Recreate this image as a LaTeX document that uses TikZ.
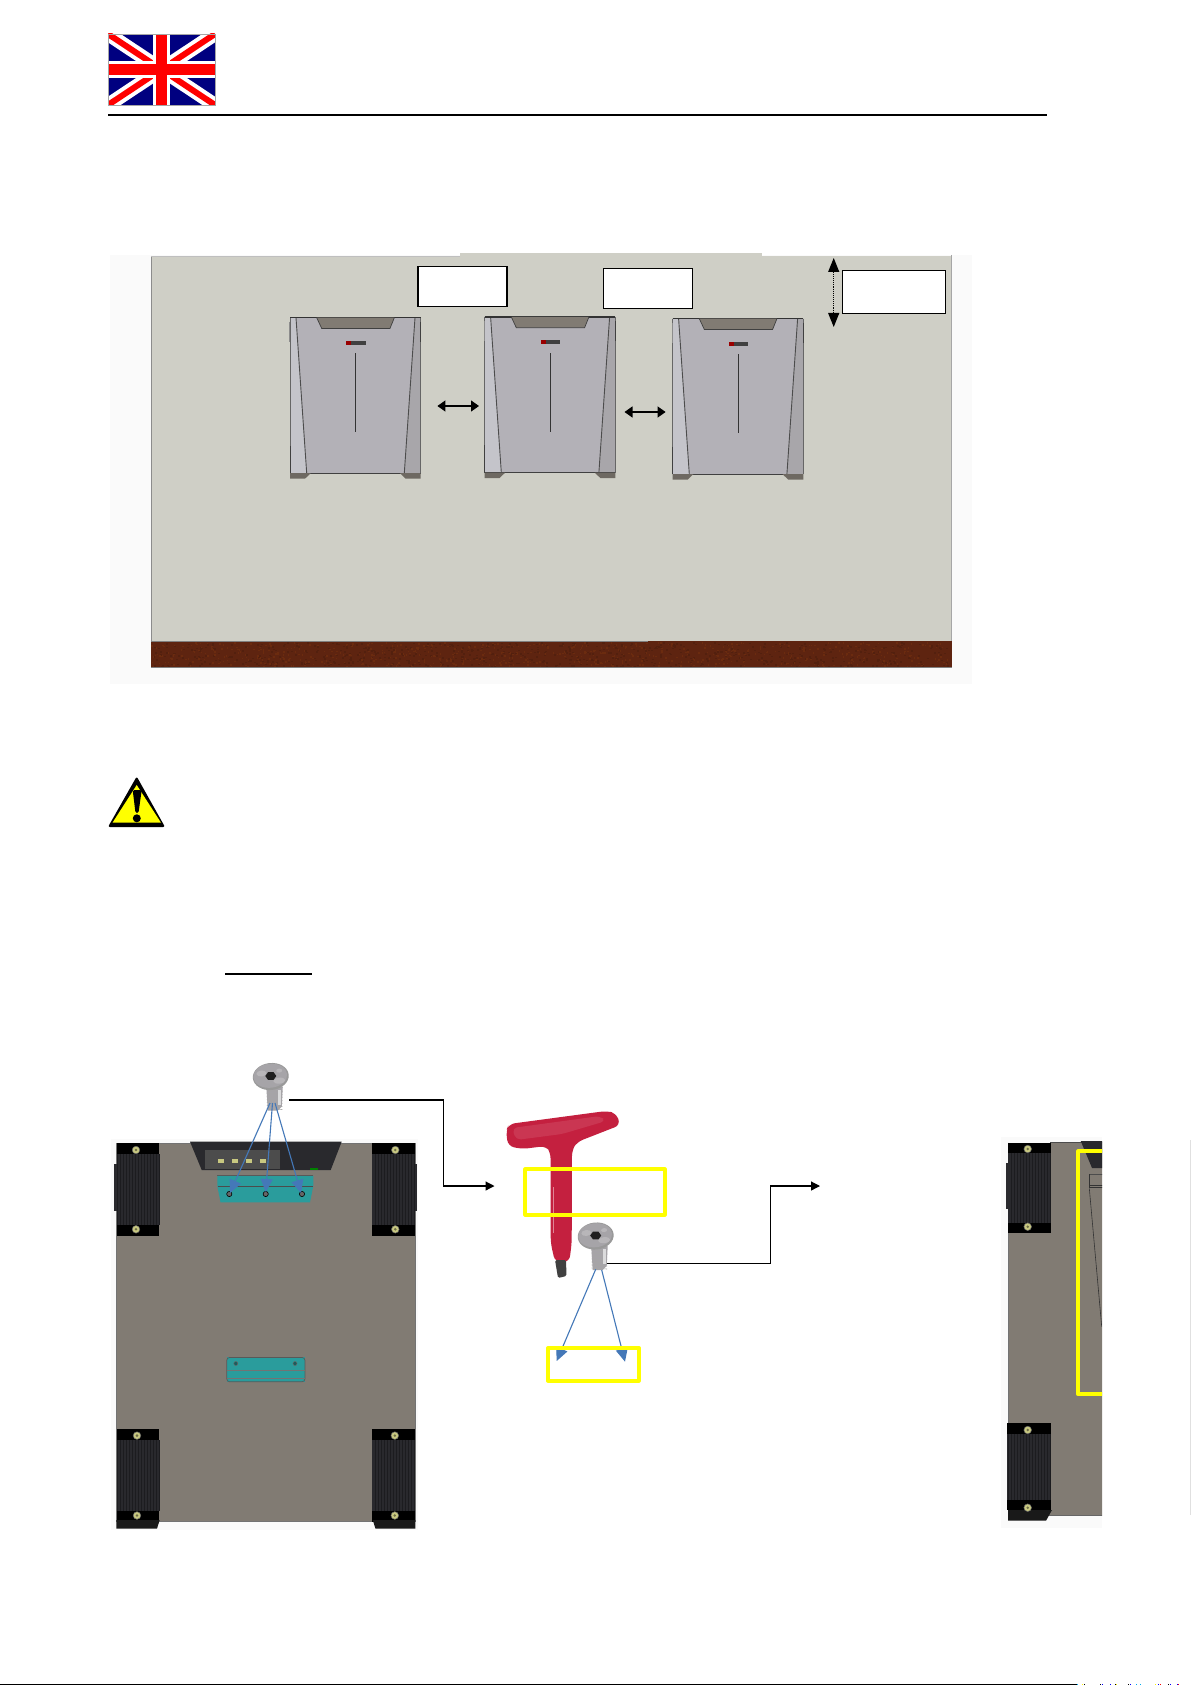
\documentclass[tikz,border=0pt]{standalone}
\usetikzlibrary{arrows.meta}
\definecolor{wallc}{HTML}{CFCFC6}
\definecolor{floorc}{HTML}{5E2410}
\definecolor{paleb}{HTML}{FAFAFA}
\definecolor{bodyc}{HTML}{B3B1B7}
\definecolor{sidel}{HTML}{C4C4CA}
\definecolor{sided}{HTML}{A8A6AA}
\definecolor{taupe}{HTML}{817B73}
\definecolor{padc}{HTML}{29292D}
\definecolor{meshc}{HTML}{1C1C1F}
\definecolor{tealc}{HTML}{2A9C9C}
\definecolor{bluea}{HTML}{4478B8}
\definecolor{yell}{HTML}{FFFF00}
\definecolor{gold}{HTML}{C8C880}
\definecolor{redh}{HTML}{C4203F}
\definecolor{flagb}{HTML}{000080}
\definecolor{flagr}{HTML}{FF0000}
\definecolor{screwc}{HTML}{A6A4A8}
\tikzset{
  blank/.style={draw=black,fill=white,line width=1.2pt},
  yellbox/.style={draw=yell,line width=4pt,line join=round},
  blk/.style={draw=black,line width=1.2pt,-{Triangle[length=9pt,width=9pt]}},
  dbl/.style={draw=black,line width=1.2pt,{Triangle[length=8pt,width=11pt]}-{Triangle[length=8pt,width=11pt]}},
  blu/.style={draw=bluea,line width=1.1pt,-{Triangle[length=13pt,width=12pt]}},
  mesh/.style={draw=meshc,line width=.3pt,step=3},
  cabin/.pic={
    \fill[bodyc] (0,0) rectangle (130.7,155.5);
    \fill[sidel] (0,0) -- (6,0) -- (16.7,155.5) -- (0,155.5) -- cycle;
    \fill[sided] (130.7,0) -- (125,0) -- (114.3,155.5) -- (130.7,155.5) -- cycle;
    \draw[black!70,line width=.9pt] (6,0) -- (16.7,155.5);
    \draw[black!70,line width=.9pt] (125,0) -- (114.3,155.5);
    \draw[black!60,line width=.7pt] (0,0) -- (0,155.5);
    \draw[black!60,line width=.7pt] (130.7,0) -- (130.7,155.5);
    \draw[black!75,line width=.8pt] (130.7,4) -- (130.7,24);
    \draw[black!45,line width=.8pt] (-.7,4) -- (-.7,24);
    \draw[black!75,line width=.8pt] (0,128) -- (0,155.5);
    \draw[black!75,line width=.8pt] (0,155.5) -- (130.7,155.5);
    \draw[black!80,line width=1.1pt] (0,0) -- (130.7,0);
    \fill[taupe] (26.7,0) -- (104.3,0) -- (100,10.7) -- (31.7,10.7) -- cycle;
    \draw[black!75,line width=.7pt] (26.7,0) -- (31.7,10.7) -- (100,10.7) -- (104.3,0);
    \fill[black!75] (56,23) rectangle (75.7,27.4);
    \fill[red!60!black] (56,23) rectangle (61,27.4);
    \fill[black!80] (65,35.7) rectangle (65.8,114.7);
    \fill[taupe!85!black] (0,155.5) -- (20.7,155.5) -- (15,161) -- (0,161) -- cycle;
    \fill[taupe!85!black] (130.7,155.5) -- (110,155.5) -- (115.7,161) -- (130.7,161) -- cycle;
  },
  screwb/.style={fill=gold,draw=black!60,line width=.5pt},
  screw/.pic={
    \fill[screwc] (-4.5,10) -- (12,10) -- (11,30) -- (7,34) -- (-3,34) -- cycle;
    \foreach \t in {14,17,...,32} \draw[black!35,line width=.6pt] (-4,\t) -- (11.5,\t+1);
    \fill[white!60!screwc] (7.5,13) rectangle (10,28);
    \begin{scope}[rotate=6]
    \fill[black!40] (0,0) ellipse (18 and 13.5);
    \fill[screwc] (-.5,-.8) ellipse (17 and 12);
    \fill[white!20!screwc] (-9,-4) ellipse (5 and 3);
    \fill[white!20!screwc] (8,5) ellipse (6 and 3);
    \fill[white!20!screwc] (9,-5) ellipse (3 and 2);
    \end{scope}
    \fill[black!88] (-5.5,-.5) -- (-2.8,-4.3) -- (2.8,-4.3) -- (5.5,-.5) -- (2.8,3.3) -- (-2.8,3.3) -- cycle;
  }
}
\begin{document}
\begin{tikzpicture}[x=1pt,y=-1pt]
\useasboundingbox (0,0) rectangle (1192,1685);
\fill[white] (0,0) rectangle (1192,1685);
% flag
\begin{scope}
\clip (108,34) rectangle (215,105);
\fill[flagb] (108,34) rectangle (215,105);
\draw[white,line width=14pt] (108,34) -- (215,105) (108,105) -- (215,34);
\draw[flagr,line width=6pt] (108,34) -- (215,105) (108,105) -- (215,34);
\fill[white] (153,34) rectangle (170,105);
\fill[white] (108,61) rectangle (215,78);
\fill[flagr] (156,34) rectangle (167,105);
\fill[flagr] (108,64) rectangle (215,75);
\end{scope}
\draw[black!35,line width=.5pt] (108,34) rectangle (215,105);
\fill[black] (108,114) rectangle (1047,116.2);
% wall
\fill[paleb] (110,255) rectangle (972,684);
\fill[wallc] (151,256) rectangle (951.5,642);
\fill[wallc] (460,253) rectangle (762,257);
\draw[black!45,line width=.6pt] (151,256) -- (151,667.5);
\draw[black!35,line width=.6pt] (951.5,255) -- (951.5,641);
\draw[black!25,line width=.5pt] (151,256) -- (460,256);
\fill[floorc] (151,641) rectangle (951.5,667.5);
\pgfmathsetseed{7}
\foreach \i in {1,...,1400}{
  \pgfmathsetmacro{\px}{151+rnd*798}
  \pgfmathsetmacro{\py}{642+rnd*24}
  \ifodd\i
    \fill[floorc!88!black] (\px,\py) rectangle ++(2,1.5);
  \else
    \fill[floorc!92!orange] (\px,\py) rectangle ++(1.5,1.5);
  \fi
}
\draw[black!50,line width=.7pt] (151,641) -- (648,641);
\draw[black!50,line width=.5pt] (151,667.5) -- (951.5,667.5);
\path (290,317.7) pic {cabin};
\path (484.6,317) pic {cabin};
\path (672.6,318.7) pic {cabin};
\node[blank,minimum width=89pt,minimum height=40pt,inner sep=0pt] (b1) at (462.5,286.7) {};
\node[blank,minimum width=89pt,minimum height=40pt,inner sep=0pt] (b2) at (648,288.2) {};
\node[blank,minimum width=103pt,minimum height=43pt,inner sep=0pt] (b3) at (893.7,292.2) {};
\coordinate (a1l) at (437.4,406);
\coordinate (a1r) at (479,406);
\coordinate (a2l) at (624.5,412);
\coordinate (a2r) at (665.6,412);
\coordinate (vt) at (833.7,258);
\coordinate (vb) at (833.7,327);
\draw[dbl] (a1l) -- (a1r);
\draw[dbl] (a2l) -- (a2r);
\draw[line width=1.1pt,densely dotted,{Triangle[length=14pt,width=11pt]}-{Triangle[length=14pt,width=11pt]}] (vt) -- (vb);
% warning
\fill[black,rounded corners=2pt] (136.7,776.5) -- (108,827) -- (165,827) -- cycle;
\fill[yell] (136.7,785) -- (112.5,822.7) -- (161,822.7) -- cycle;
\fill[black,rounded corners=1.5pt] (132.7,790) -- (141.7,790) -- (138.5,813) -- (135.5,813) -- cycle;
\fill[black] (136.8,818.3) circle (4);
\fill[black] (225,972.7) rectangle (311.7,974.7);
% big unit
\fill[paleb] (111,1139) rectangle (418,1530);
\fill[taupe] (116.5,1143) rectangle (415,1521);
\draw[black!55,line width=.8pt] (116.5,1143) -- (116.5,1521) -- (415,1521) -- (415,1143) -- cycle;
\foreach \x/\w in {116.7/42.6,372.4/42.6}{
  \fill[padc] (\x,1143) rectangle ++(\w,93);
  \draw[mesh] (\x,1154) grid ++(\w,71);
  \fill[black] (\x,1143) rectangle ++(\w,11);
  \fill[black] (\x,1225) rectangle ++(\w,11);
  \fill[padc] (\x,1429) rectangle ++(\w,82);
  \draw[mesh] (\x,1440) grid ++(\w,71);
  \fill[black] (\x,1429) rectangle ++(\w,11);
  \fill[black] (\x,1511) rectangle ++(\w,11);
}
\fill[black!90] (116.4,1520) -- (159.7,1520) -- (157,1528.6) -- (116.4,1528.6) -- cycle;
\fill[black!90] (415.3,1520) -- (372.7,1520) -- (375.5,1528.6) -- (415.3,1528.6) -- cycle;
\fill[padc] (114,1164) rectangle (117.3,1211);
\fill[padc] (415,1164) rectangle (416.8,1211);
\foreach \x/\y in {136/1150,136/1229.3,395.3/1150,395.3/1229.3,137/1435.6,137/1515.5,394.8/1435.6,394.8/1515.5}{
  \filldraw[screwb] (\x,\y) circle (3.8);
  \fill[black!45!gold] (\x,\y) circle (1.4);
}
% connector block
\fill[padc] (190,1141.7) -- (341.7,1141.7) -- (330.7,1170) -- (201.7,1170) -- cycle;
\fill[black!70] (205,1150) rectangle (280,1169);
\foreach \x in {220.7,235,249,263} \fill[gold] (\x-3,1159) rectangle (\x+3,1163);
\fill[green!50!black] (310,1168) rectangle (318,1170);
% brackets
\fill[tealc] (217.3,1175.7) -- (313.3,1175.7) -- (313.3,1186) -- (310,1202.3) -- (220.5,1202.3) -- (217.3,1186) -- cycle;
\draw[black!65,line width=.7pt] (217.3,1175.7) -- (313.3,1175.7);
\draw[black!70,line width=1pt] (218,1186.7) -- (312.5,1186.7);
\foreach \x in {229.3,265.7,302} \filldraw[fill=black!60,draw=black,line width=.6pt] (\x,1194) circle (2.6);
\fill[tealc] (226.7,1357.4) rectangle (305,1381.8);
\draw[black!65,line width=.7pt,rounded corners=3pt] (226.7,1357.4) rectangle (305,1381.8);
\draw[black!55,line width=.6pt] (226.7,1370.5) -- (305,1370.5) (226.7,1378.5) -- (305,1378.5);
\foreach \x in {235.8,295} \draw[black!60,fill=tealc!60!black,line width=.5pt] (\x,1363.5) circle (2);
% screw 1
\path (270.8,1076.5) pic {screw};
\coordinate (s1a) at (270,1103);
\coordinate (s1b) at (272.5,1103);
\coordinate (s1c) at (275,1103);
\coordinate (h1) at (230,1193);
\coordinate (h2) at (265.7,1192);
\coordinate (h3) at (301,1193);
\draw[blu] (s1a) -- (h1);
\draw[blu] (s1b) -- (h2);
\draw[blu] (s1c) -- (h3);
% black link 1
\coordinate (l1a) at (289,1100);
\coordinate (l1b) at (494.5,1186);
\draw[blk] (l1a) -| (443.5,1186) -- (l1b);
% T-key
\fill[redh,rounded corners=6pt] (506,1131) -- (509,1124) -- (606,1111) -- (616,1113) -- (620.5,1125) -- (577,1142) -- (572,1150) -- (571.7,1243) -- (569.3,1262) -- (555,1262) -- (550.7,1243) -- (550.5,1152) -- (546,1146) -- (522,1149) -- (508,1146) -- cycle;
\fill[redh!90!white,rounded corners=5pt] (512,1128) -- (600,1116) -- (606,1121) -- (562,1134) -- (516,1140) -- cycle;
\fill[black!75,rounded corners=1.5pt] (555,1260) -- (566,1260) -- (566.5,1276) -- (558,1278) -- cycle;
\fill[white!45!redh] (553,1187) rectangle (554.2,1233);
% screw 2
\path (595.7,1236) pic {screw};
\coordinate (s2a) at (595.7,1269.3);
\coordinate (s2b) at (601.7,1270);
\coordinate (t2a) at (556.7,1361);
\coordinate (t2b) at (625,1361.7);
\draw[blu] (s2a) -- (t2a);
\draw[blu] (s2b) -- (t2b);
\coordinate (l2a) at (606.7,1263.7);
\coordinate (l2b) at (820,1186);
\draw[blk] (l2a) -| (770.6,1186) -- (l2b);
% yellow boxes
\node[yellbox,minimum width=139.5pt,minimum height=45.5pt,inner sep=0pt,outer sep=0pt] (y1) at (595,1192) {};
\node[yellbox,minimum width=90.7pt,minimum height=32.7pt,inner sep=0pt,outer sep=0pt] (y2) at (593.4,1364.3) {};
% right unit
\fill[paleb] (1001,1136.7) rectangle (1102,1528);
\begin{scope}
\clip (1000,1136) rectangle (1102,1530);
\fill[taupe] (1008.3,1142.7) rectangle (1110,1515);
\draw[black!55,line width=.8pt] (1008.3,1142.7) -- (1008.3,1515);
\draw[black!60,line width=.8pt] (1045,1515) -- (1110,1515);
\draw[black!70,line width=.6pt] (1050,1142.7) -- (1110,1142.7);
\fill[padc] (1008.3,1142.7) rectangle (1050.7,1233.3);
\draw[mesh] (1008.3,1153) grid (1050.7,1223);
\fill[black] (1008.3,1142.7) rectangle (1050.7,1153.3);
\fill[black] (1008.3,1222.7) rectangle (1050.7,1233.3);
\fill[padc] (1007.3,1423.3) rectangle (1050.7,1510);
\draw[mesh] (1007.3,1433) grid (1050.7,1500);
\fill[black] (1007.3,1423.3) rectangle (1050.7,1433.5);
\fill[black] (1007.3,1500) rectangle (1050.7,1510);
\fill[black!90] (1008,1510) -- (1052,1510) -- (1046,1520.7) -- (1008,1520.7) -- cycle;
\fill[padc] (1006,1163.3) rectangle (1008.3,1209.3);
\foreach \x/\y in {1027.7/1149,1027.7/1226.7,1027.7/1430,1027.7/1507.7}{
  \filldraw[screwb] (\x,\y) circle (3.8);
  \fill[black!45!gold] (\x,\y) circle (1.4);
}
\fill[padc] (1080.7,1141) -- (1110,1141) -- (1110,1168) -- (1092,1168) -- cycle;
\draw[black!70,line width=.5pt] (1089.3,1174.3) -| (1110,1187.5);
\draw[black!80,line width=.6pt] (1089.3,1174.3) -- (1089.3,1188) (1089.3,1185) -- (1110,1185) (1089.3,1187.7) -- (1110,1187.7);
\draw[black!80,line width=.6pt] (1089.3,1188.3) -- (1101.7,1326.7);
\draw[yell,line width=4pt,line join=round] (1110,1151.3) -- (1078.3,1151.3) -- (1078.3,1394.3) -- (1110,1394.3);
\end{scope}
% page-edge traces
\draw[black!12,line width=.8pt] (1190.5,1140) -- (1190.5,1515);
\fill[black] (0,1683.7) rectangle (1077,1685);
\foreach \x/\c in {1077/cyan,1082/yellow,1083.5/black,1100/black,1102/blue,1110/blue,1115/black,1115.5/yellow,1128/black,1130/blue,1136/cyan,1140/cyan,1155/yellow,1157.5/blue,1160/red,1168/black,1170/blue,1177/blue,1178/red}
  \fill[\c] (\x,1683.7) rectangle ++(1,1.3);
\end{tikzpicture}
\end{document}
